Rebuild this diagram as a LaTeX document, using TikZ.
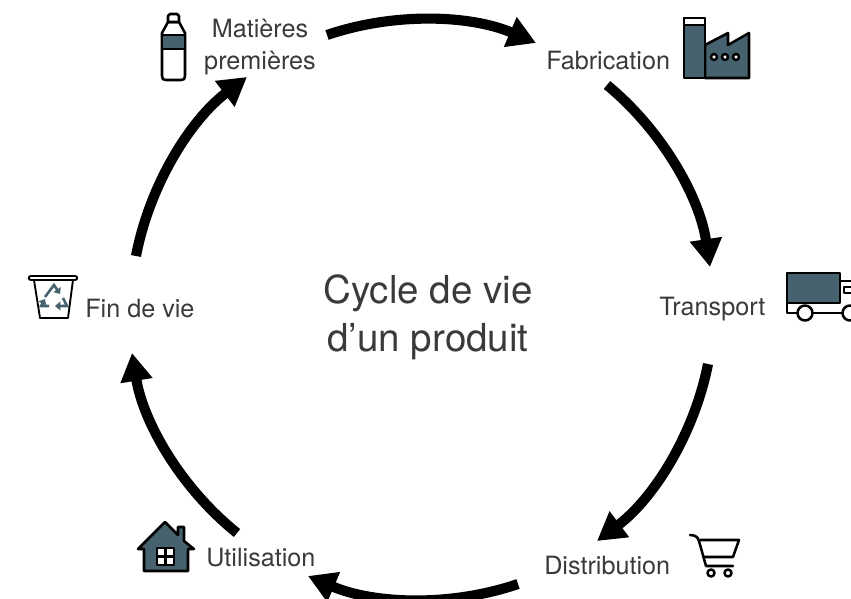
\documentclass[tikz,border=0pt]{standalone}
\usepackage{fontspec}
\setmainfont{TeX Gyre Heros}
\usetikzlibrary{arrows.meta}
\definecolor{slate}{HTML}{46626F}
\definecolor{txtgrey}{HTML}{3A3A3A}
\tikzset{
  cycle/.style={line width=7.6pt, draw=black, looseness=0.87,
    -{Triangle[length=21pt,width=23pt]}},
  step label/.style={text=txtgrey, font=\fontsize{18.9}{24}\selectfont, align=center, inner sep=0pt},
  title label/.style={text=txtgrey, font=\fontsize{28.9}{36}\selectfont, align=center, inner sep=0pt},
  icon/.style={draw=black, line width=1.9pt, line join=round},
  slate icon/.style={icon, fill=slate},
  white icon/.style={icon, fill=white},
  recycle/.style={draw=slate, line width=1.9pt, -{Triangle[length=4pt,width=6.5pt]}}
}
\begin{document}
\begin{tikzpicture}[x=0.75pt, y=-0.75pt]
    \useasboundingbox (0,0) rectangle (851,599);

    \node[title label] (titre) at (428,317) {Cycle de vie\\d’un produit};
    \node[step label] (matieres) at (260,47) {Matières\\premières};
    \node[step label, anchor=west] (fabrication) at (546,61) {Fabrication};
    \node[step label, anchor=west] (transport) at (659,309) {Transport};
    \node[step label, anchor=west] (distribution) at (544,566) {Distribution};
    \node[step label, anchor=west] (utilisation) at (206,558) {Utilisation};
    \node[step label, anchor=west] (fin) at (85,309) {Fin de vie};

    \coordinate (a1) at (327,35);   \coordinate (b1) at (536,43);
    \coordinate (a2) at (607,85);   \coordinate (b2) at (710,267);
    \coordinate (a3) at (708,364);  \coordinate (b3) at (597,541);
    \coordinate (a4) at (518,584);  \coordinate (b4) at (308,576);
    \coordinate (a5) at (237,533);  \coordinate (b5) at (132,353);
    \coordinate (a6) at (136,256);  \coordinate (b6) at (247,77);

    \draw[cycle] (a1) to[bend left=21] (b1);
    \draw[cycle] (a2) to[bend left=21] (b2);
    \draw[cycle] (a3) to[bend left=21] (b3);
    \draw[cycle] (a4) to[bend left=21] (b4);
    \draw[cycle] (a5) to[bend left=21] (b5);
    \draw[cycle] (a6) to[bend left=21] (b6);

    % bouteille
    \draw[white icon] (168,22) -- (162,33) -- (162,76)
      .. controls (162,79) and (163,80) .. (166,80) -- (181,80)
      .. controls (184,80) and (185,79) .. (185,76) -- (185,33) -- (179,22) -- cycle;
    \draw[white icon] (168,22) -- (168,16) -- (170,14) -- (177,14) -- (179,16) -- (179,22) -- cycle;
    \draw[slate icon] (162,35) rectangle (185,49);

    % usine
    \draw[slate icon] (705,45) -- (728,33) -- (728,45) -- (749,33) -- (749,78) -- (705,78) -- cycle;
    \draw[slate icon] (684,18) rectangle (705,78);
    \draw[white icon] (684,18) rectangle (705,25);
    \foreach \xp in {714,725,736}
      \draw[white icon] (\xp,57) circle (3);

    % camion
    \draw[icon] (787,303) -- (787,313) -- (797,313);
    \draw[icon] (813,313) -- (842,313);
    \draw[icon] (840,281) -- (851,281);
    \draw[slate icon] (787,273) rectangle (840,303);
    \draw[white icon] (844,287) rectangle (856,293);
    \draw[white icon] (805,313) circle (7.5);
    \draw[white icon] (850,313) circle (7.5);

    % chariot
    \draw[icon, line cap=round] (690,535) .. controls (695,535) and (698,537) .. (699,541) -- (706,566) -- (733,566);
    \draw[icon] (700,540) -- (739,540) -- (733,557) -- (703,557);
    \draw[icon] (711,573) circle (3.5);
    \draw[icon] (728,573) circle (3.5);

    % maison
    \draw[slate icon] (138,549) -- (165,522) -- (178,535) -- (178,527) -- (184,527) -- (184,541) -- (194,549)
      -- (188,549) -- (188,571) -- (144,571) -- (144,549) -- cycle;
    \draw[white icon, line width=1.8pt] (157,548) rectangle (174,565);
    \draw[icon, line width=2.2pt] (157,556.5) -- (174,556.5) (165.5,548) -- (165.5,565);

    % poubelle
    \draw[icon, line width=1.4pt] (34,280) -- (40,318) -- (68,318) -- (73,280);
    \draw[icon, line width=1.4pt, fill=white] (31,276) -- (75,276) .. controls (78,276) and (78,280) .. (75,280)
      -- (31,280) .. controls (28,280) and (28,276) .. (31,276) -- cycle;
    \draw[recycle] (45,297) -- (54,285) -- (60,294);
    \draw[recycle] (63,298) -- (67,306) -- (55,306);
    \draw[recycle] (49,306) -- (41,306) -- (45,299);
\end{tikzpicture}
\end{document}
